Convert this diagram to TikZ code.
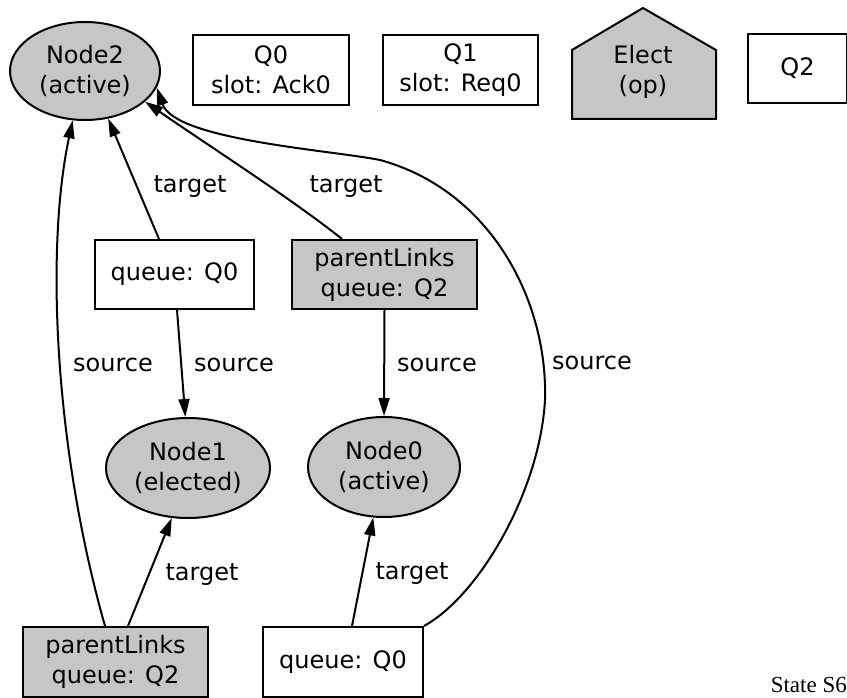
\documentclass[tikz,border=0pt]{standalone}
\usepackage{fontspec}
\setmainfont{Liberation Serif}
\newfontfamily\diagfont{DejaVu Sans}
\usetikzlibrary{arrows.meta,shapes.geometric}
\definecolor{nodegray}{RGB}{198,198,198}
\begin{document}
\begin{tikzpicture}[x=1pt,y=-1pt,
  every node/.style={font=\diagfont\fontsize{24}{30}\selectfont, inner sep=0pt, align=center},
  box/.style={draw, line width=2pt, rectangle},
  gbox/.style={box, fill=nodegray},
  ell/.style={draw, line width=2pt, ellipse, fill=nodegray},
  conn/.style={line width=2pt, -{Triangle[length=18pt,width=11pt]}}]
\useasboundingbox (0,0) rectangle (847,698);
\fill[white] (0,0) rectangle (847,698);

% top row
\node[ell, minimum width=150pt, minimum height=98pt] (n2) at (85,71) {Node2\\(active)};
\node[box, minimum width=156pt, minimum height=70pt] (q0t) at (271,70) {Q0\\slot: Ack0};
\node[box, minimum width=155pt, minimum height=70pt] (q1t) at (460.5,70) {Q1\\slot: Req0};
\draw[fill=nodegray, line width=2pt] (572,119) -- (572,50) -- (643,8) -- (716,50) -- (716,119) -- cycle;
\node (elect) at (643,72) {Elect\\(op)};
\node[box, minimum width=99pt, minimum height=69pt] (q2t) at (797.5,68.5) {Q2};

% middle row
\node[box, minimum width=159pt, minimum height=69pt] (qm) at (174.5,274.5) {queue: Q0};
\node[gbox, minimum width=185pt, minimum height=69pt] (plm) at (384.5,274.5) {parentLinks\\queue: Q2};

\node[ell, minimum width=164pt, minimum height=100pt] (n1) at (188,468) {Node1\\(elected)};
\node[ell, minimum width=152pt, minimum height=100pt] (n0) at (384,467) {Node0\\(active)};

% bottom row
\node[gbox, minimum width=185pt, minimum height=70pt] (plb) at (115.5,662) {parentLinks\\queue: Q2};
\node[box, minimum width=160pt, minimum height=70pt] (qb) at (343,662) {queue: Q0};

\node[font=\rmfamily\fontsize{23}{26}\selectfont, anchor=base east] (state) at (847,692) {State S6};

% connectors
\draw[conn] ([xshift=-10.5pt]plb.north) .. controls (55,450) and (45,250) .. (n2.256);
\draw[conn] ([xshift=12.5pt]plb.north) -- (n1.252);
\draw[conn] ([xshift=2.5pt]qm.south) -- (n1.93);
\draw[conn] ([xshift=-15.5pt]qm.north) -- (n2.296);
\draw[conn] ([xshift=-42.5pt]plm.north) .. controls +(-50,-40) and +(56,39) .. (n2.333);
\draw[conn] (plm.south) -- (n0.north);
\draw[conn] ([xshift=9pt]qb.north) -- (n0.258);
\draw[conn] (qb.north east) .. controls (480,595) and (540,490) .. (545,400)
  .. controls (548,300) and (490,190) .. (380,160)
  .. controls (330,150) and (175,140) .. (n2.347);

% labels
\node (ls1) at (113,365) {source};
\node (ls2) at (234,365) {source};
\node (ls3) at (437,365) {source};
\node (ls4) at (592,363) {source};
\node (lt1) at (190,187) {target};
\node (lt2) at (346,187) {target};
\node (lt3) at (202,575) {target};
\node (lt4) at (412,574) {target};
\end{tikzpicture}
\end{document}
